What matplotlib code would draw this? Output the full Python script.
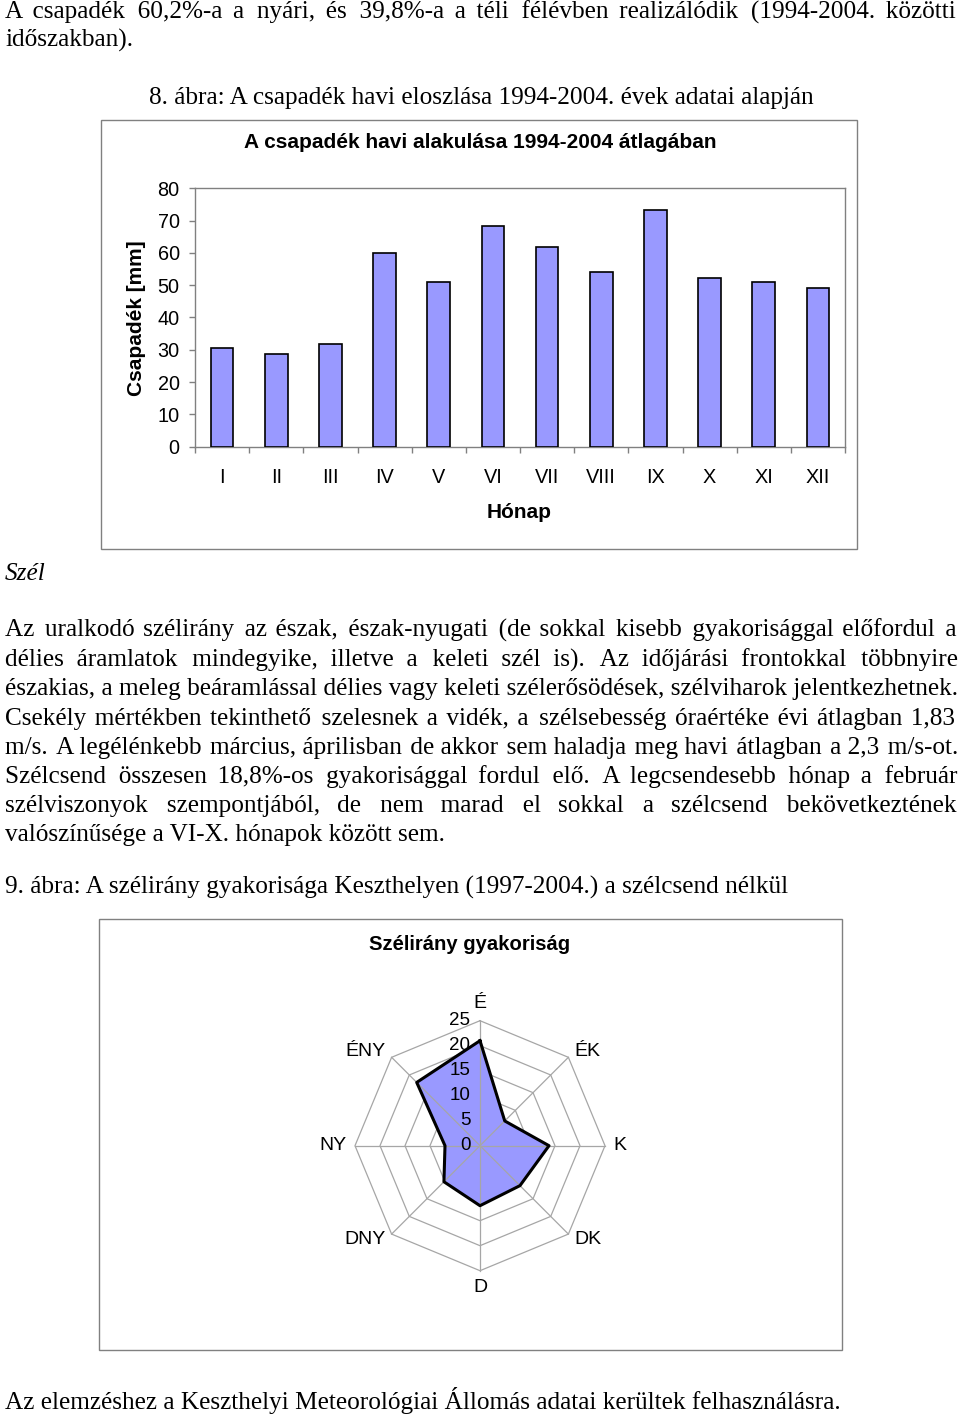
import matplotlib
matplotlib.use('Agg')
import matplotlib.pyplot as plt
import numpy as np
from matplotlib.patches import Rectangle

W, H = 960, 1416

# ---------------- data ----------------
months = ['I', 'II', 'III', 'IV', 'V', 'VI', 'VII', 'VIII', 'IX', 'X', 'XI', 'XII']
precip = [30.7, 28.7, 31.7, 60.0, 51.1, 68.2, 61.9, 54.1, 73.2, 52.1, 51.1, 49.2]
precip_ticks = [0, 10, 20, 30, 40, 50, 60, 70, 80]

directions = ['É', 'ÉK', 'K', 'DK', 'D', 'DNY', 'NY', 'ÉNY']
wind_freq = [21.0, 7.0, 13.8, 11.3, 12.0, 10.2, 7.0, 17.9]
wind_ticks = [0, 5, 10, 15, 20, 25]

top_lines = ["A csapadék 60,2%-a a nyári, és 39,8%-a a téli félévben realizálódik (1994-2004. közötti",
             "időszakban)."]
caption8 = "8. ábra: A csapadék havi eloszlása 1994-2004. évek adatai alapján"
section = "Szél"
para_lines = [
    "Az uralkodó szélirány az észak, észak-nyugati (de sokkal kisebb gyakorisággal előfordul a",
    "délies áramlatok mindegyike, illetve a keleti szél is). Az időjárási frontokkal többnyire",
    "északias, a meleg beáramlással délies vagy keleti szélerősödések, szélviharok jelentkezhetnek.",
    "Csekély mértékben tekinthető szelesnek a vidék, a szélsebesség óraértéke évi átlagban 1,83",
    "m/s. A legélénkebb március, áprilisban de akkor sem haladja meg havi átlagban a 2,3 m/s-ot.",
    "Szélcsend összesen 18,8%-os gyakorisággal fordul elő. A legcsendesebb hónap a február",
    "szélviszonyok szempontjából, de nem marad el sokkal a szélcsend bekövetkeztének",
    "valószínűsége a VI-X. hónapok között sem.",
]
caption9 = "9. ábra: A szélirány gyakorisága Keszthelyen (1997-2004.) a szélcsend nélkül"
last_line = "Az elemzéshez a Keszthelyi Meteorológiai Állomás adatai kerültek felhasználásra."

bar_title = "A csapadék havi alakulása 1994-2004 átlagában"
bar_ylabel = "Csapadék [mm]"
bar_xlabel = "Hónap"
radar_title = "Szélirány gyakoriság"

# ---------------- helpers ----------------
SERIF = ['Liberation Serif', 'DejaVu Serif']
SANS = ['Liberation Sans', 'DejaVu Sans']
BODY_FS = 18.2
TICK_FS = 14.3
TITLE_FS = 15
RADAR_TITLE_FS = 14.6
RADAR_LBL_FS = 14
RADAR_TICK_FS = 13.5
BAR_COLOR = '#9999FF'
GRID_GRAY = '#a6a6a6'
FRAME_GRAY = '#808080'

fig = plt.figure(figsize=(W / 100, H / 100), dpi=100)
fig.patch.set_facecolor('white')


def rect(x0, y0, x1, y1):
    return [x0 / W, 1 - y1 / H, (x1 - x0) / W, (y1 - y0) / H]


def fx(x):
    return x / W


def fy(y):
    return 1 - y / H


def frame(x0, y0, x1, y1):
    fig.patches.append(Rectangle((fx(x0), fy(y1)), (x1 - x0) / W, (y1 - y0) / H,
                                 transform=fig.transFigure, fill=False,
                                 ec=FRAME_GRAY, lw=1.0))


renderer = fig.canvas.get_renderer()


def measure(s, **kw):
    t = fig.text(0, 0.5, s, family=SERIF, fontsize=BODY_FS, **kw)
    w = t.get_window_extent(renderer).width
    t.remove()
    return w


HAIR = '\u200a'
hair_w = (measure('a' + HAIR * 20 + 'a') - measure('aa')) / 20.0


def body_line(text, yb, justify=True, x0=5, x1=956, **kw):
    words = text.split(' ')
    if justify and hair_w > 0.2:
        natural = measure(text, **kw)
        extra = max(0.0, (x1 - x0) - natural)
        per = extra / (len(words) - 1)
        out = words[0]
        for i, w in enumerate(words[1:]):
            k = int(round((i + 1) * per / hair_w)) - int(round(i * per / hair_w))
            out += ' ' + HAIR * k + w
        text = out
    fig.text(fx(x0), fy(yb), text, ha='left', va='baseline',
             family=SERIF, fontsize=BODY_FS, **kw)


# ---------------- page text ----------------
body_line(top_lines[0], 19)
body_line(top_lines[1], 47, justify=False)
fig.text(fx(481), fy(104), caption8, ha='center', va='baseline', family=SERIF, fontsize=BODY_FS)
fig.text(fx(5), fy(580), section, ha='left', va='baseline', family=SERIF,
         fontsize=BODY_FS, style='italic')
for i, ln in enumerate(para_lines):
    body_line(ln, 637 + i * 29.2, justify=(i < len(para_lines) - 1))
fig.text(fx(5), fy(894), caption9, ha='left', va='baseline', family=SERIF, fontsize=BODY_FS)
fig.text(fx(5), fy(1409), last_line, ha='left', va='baseline', family=SERIF, fontsize=BODY_FS)

# ---------------- bar chart ----------------
frame(101, 120, 857, 549)
ax = fig.add_axes(rect(195, 188.3, 845, 446.7))
x = np.arange(len(months))
ax.bar(x, precip, width=0.42, color=BAR_COLOR, edgecolor='black', linewidth=1.2, zorder=3)
ax.set_xlim(-0.5, len(months) - 0.5)
ax.set_ylim(precip_ticks[0], precip_ticks[-1])
for s in ax.spines.values():
    s.set_color(FRAME_GRAY)
    s.set_linewidth(1.0)
ax.set_yticks(precip_ticks)
ax.set_yticklabels([str(v) for v in precip_ticks], family=SANS, fontsize=TICK_FS)
ax.tick_params(axis='y', length=4, width=1, color=FRAME_GRAY, pad=7)
ax.set_xticks(x)
ax.set_xticklabels(months, family=SANS, fontsize=TICK_FS)
ax.set_xticks(np.arange(-0.5, len(months), 1), minor=True)
ax.tick_params(axis='x', which='major', length=0, pad=15)
ax.tick_params(axis='x', which='minor', length=4, width=1, color=FRAME_GRAY)

fig.text(fx(480), fy(143), bar_title, ha='center', va='center', family=SANS,
         fontsize=TITLE_FS, weight='bold')
fig.text(fx(137), fy(318), bar_ylabel, ha='center', va='center', rotation=90,
         family=SANS, fontsize=TITLE_FS, weight='bold')
fig.text(fx(519), fy(512), bar_xlabel, ha='center', va='center', family=SANS,
         fontsize=TITLE_FS, weight='bold')

# ---------------- radar chart ----------------
frame(99, 919, 842, 1350)
cx, cy, R = 480, 1145.7, 125
ax2 = fig.add_axes(rect(cx - R, cy - R, cx + R, cy + R), projection='polar')
ax2.set_theta_zero_location('N')
ax2.set_theta_direction(-1)
ax2.set_ylim(0, wind_ticks[-1])
ax2.axis('off')

theta = np.arange(len(directions)) * 2 * np.pi / len(directions)
theta_c = np.append(theta, theta[0])

for r in wind_ticks[1:]:
    ax2.plot(theta_c, [r] * len(theta_c), color=GRID_GRAY, lw=0.9, zorder=1, clip_on=False)

vals_c = np.append(wind_freq, wind_freq[0])
ax2.fill(theta_c, vals_c, color=BAR_COLOR, zorder=2, clip_on=False)
for t in theta:
    ax2.plot([t, t], [0, wind_ticks[-1]], color=GRID_GRAY, lw=0.9, zorder=3, clip_on=False)
ax2.plot(theta_c, vals_c, color='black', lw=2.2, zorder=4, clip_on=False)

for v in wind_ticks:
    ax2.annotate(str(v), xy=(0, v), xytext=(-7, 0), textcoords='offset points',
                 ha='right', va='center', family=SANS, fontsize=RADAR_TICK_FS, zorder=5,
                 annotation_clip=False)

for t, name in zip(theta, directions):
    sx, sy = np.sin(t), np.cos(t)
    ha = 'left' if sx > 0.1 else ('right' if sx < -0.1 else 'center')
    va = 'bottom' if sy > 0.9 else ('top' if sy < -0.9 else 'center')
    ax2.annotate(name, xy=(t, wind_ticks[-1]), xytext=(6 * sx, 6 * sy),
                 textcoords='offset points', ha=ha, va=va, family=SANS,
                 fontsize=RADAR_LBL_FS, annotation_clip=False)

fig.text(fx(470), fy(945), radar_title, ha='center', va='center', family=SANS,
         fontsize=RADAR_TITLE_FS, weight='bold')

fig.savefig('out.png', dpi=100, facecolor='white')
